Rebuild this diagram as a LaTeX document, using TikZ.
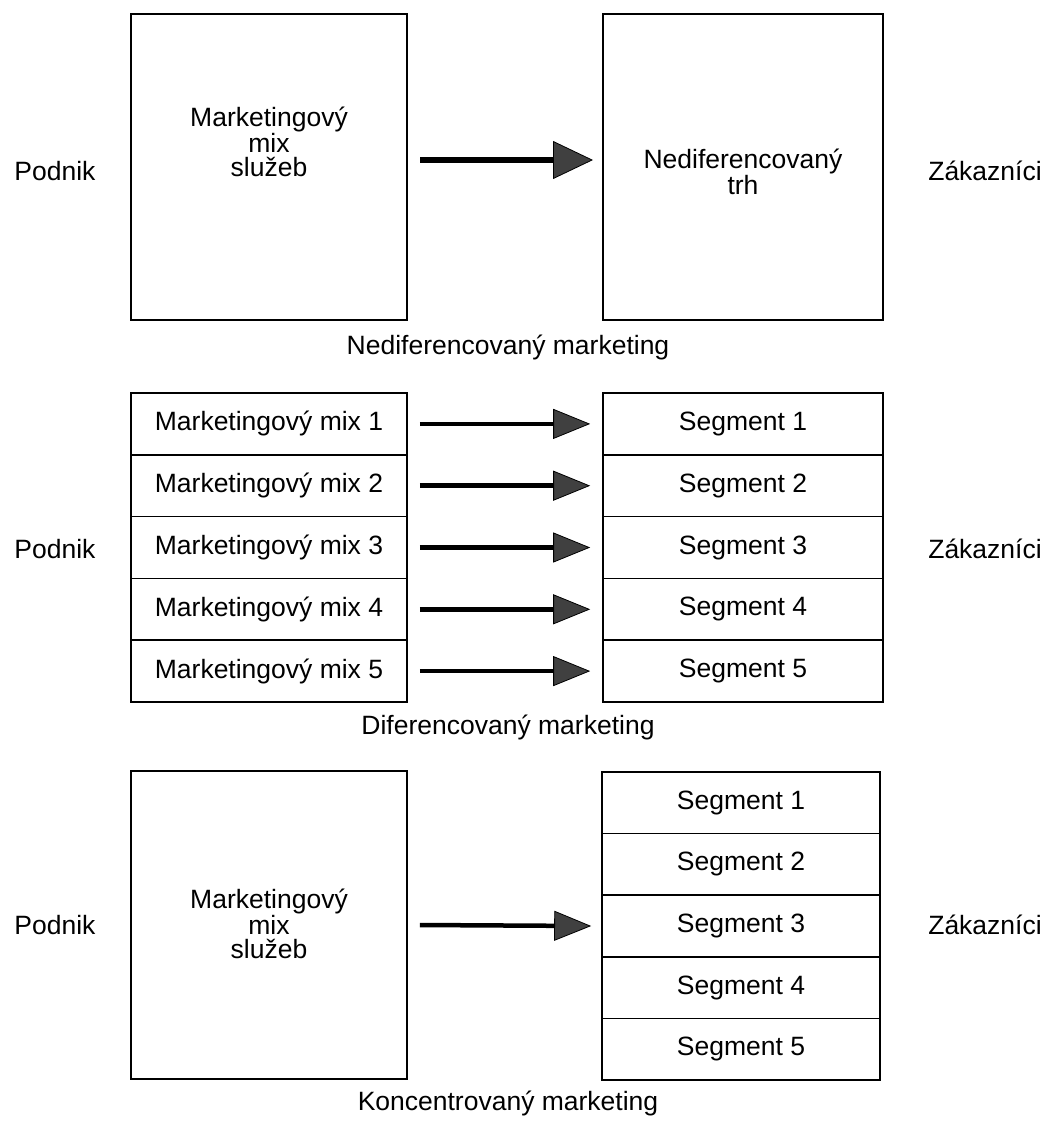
\documentclass[tikz,border=0pt]{standalone}
\usepackage{fontspec}
\setmainfont{Liberation Sans}
\usetikzlibrary{arrows.meta,positioning}
\begin{document}
\begin{tikzpicture}[x=1pt,y=-1pt,
  box/.style={draw=black,line width=1.6pt,inner sep=0pt},
  lbl/.style={font=\fontsize{26.5}{25}\selectfont,inner sep=0pt,align=center},
  bigarrow/.style={line width=5.5pt,-{Triangle[length=40pt,width=38pt,line width=0.8pt,fill=black!75]}},
  smallarrow/.style={line width=4.5pt,-{Triangle[length=37pt,width=30pt,line width=0.8pt,fill=black!75]}},
]
\useasboundingbox (0,0) rectangle (1043,1122);

% ---------- top: undifferentiated ----------
\node[box,minimum width=276pt,minimum height=306pt] (tl) at (269,167) {};
\node[box,minimum width=280pt,minimum height=306pt] (tr) at (743,167) {};
\node[lbl,font=\fontsize{26.5}{24}\selectfont] (tlt) at (269,142) {Marketingový\\mix\\služeb};
\node[lbl,font=\fontsize{26.5}{23}\selectfont] (trt) at (743,172) {Nediferencovaný\\trh};
\node[lbl] (p1) at (55,171) {Podnik};
\node[lbl] (z1) at (985,171) {Zákazníci};
\coordinate (a1s) at (420,160);
\coordinate (a1e) at (593,160);
\draw[bigarrow] (a1s) -- (a1e);
\node[lbl] (c1) at (508,347) {Nediferencovaný marketing};

% ---------- middle: differentiated ----------
\foreach \i in {1,...,5} {
  \pgfmathsetmacro{\yc}{393+61.8*(\i-0.5)}
  \node[box,minimum width=276pt,minimum height=61.8pt] (m\i) at (269,\yc) {};
  \node[lbl] (mt\i) at (269,\yc) {Marketingový mix \i};
  \node[box,minimum width=280pt,minimum height=61.8pt] (s\i) at (743,\yc) {};
  \node[lbl] (st\i) at (743,\yc) {Segment \i};
  \draw[smallarrow] ([xshift=12pt]m\i.east) -- ([xshift=-12pt]s\i.west);
}
\node[lbl] (p2) at (55,549) {Podnik};
\node[lbl] (z2) at (985,549) {Zákazníci};
\node[lbl] (c2) at (508,727) {Diferencovaný marketing};

% ---------- bottom: concentrated ----------
\node[box,minimum width=276pt,minimum height=308pt] (bl) at (269,925) {};
\node[lbl,font=\fontsize{26.5}{24}\selectfont] (blt) at (269,924) {Marketingový\\mix\\služeb};
\foreach \i in {1,...,5} {
  \pgfmathsetmacro{\yc}{772+61.6*(\i-0.5)}
  \node[box,minimum width=278pt,minimum height=61.6pt] (k\i) at (741,\yc) {};
  \node[lbl] (kt\i) at (741,\yc) {Segment \i};
}
\draw[smallarrow] ([xshift=12pt]bl.east) -- ([xshift=-10pt]k3.west);
\node[lbl] (p3) at (55,925) {Podnik};
\node[lbl] (z3) at (985,925) {Zákazníci};
\node[lbl] (c3) at (508,1103) {Koncentrovaný marketing};
\end{tikzpicture}
\end{document}
